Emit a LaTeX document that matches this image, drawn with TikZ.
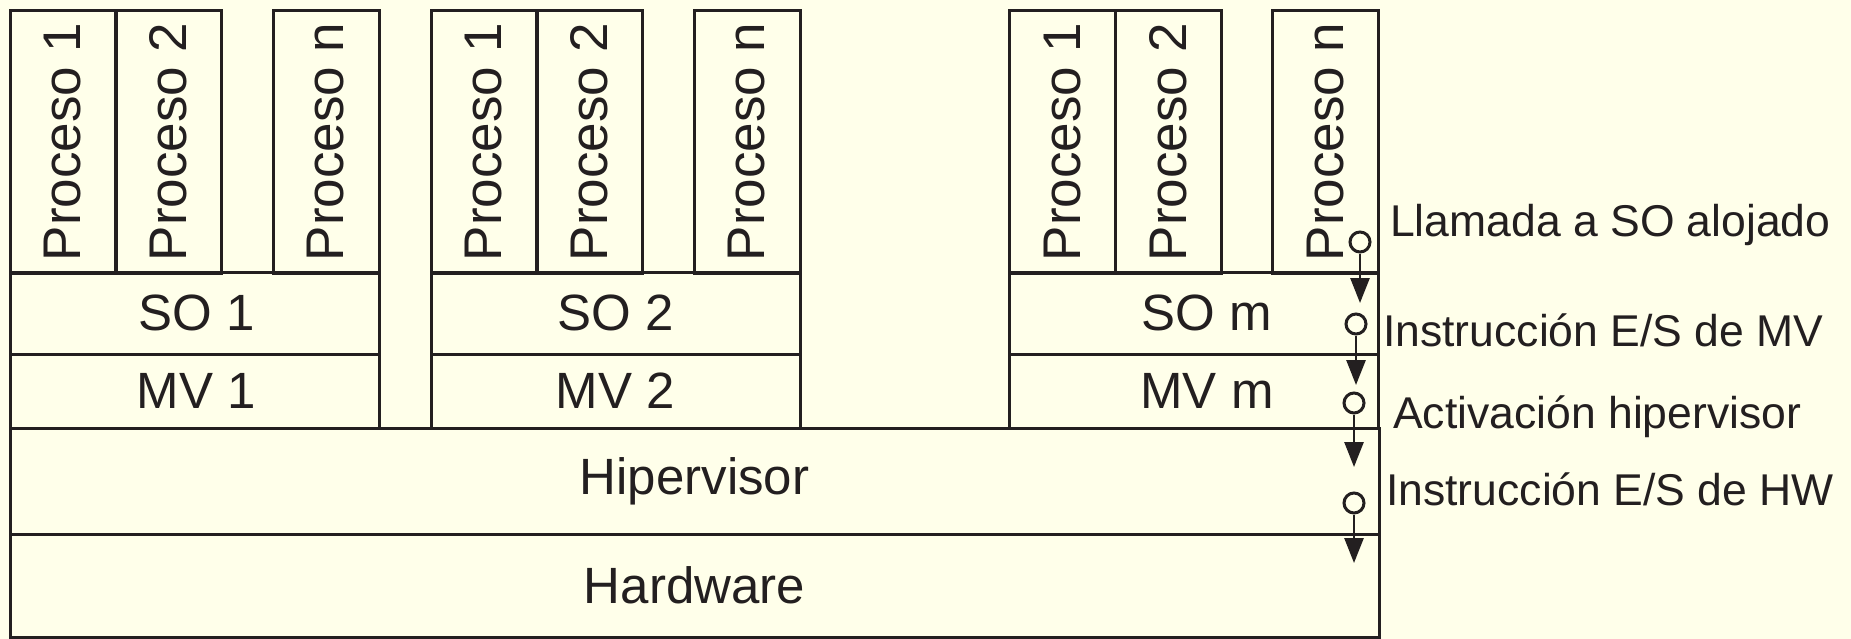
\documentclass[tikz,border=0pt]{standalone}
\usepackage{fontspec}
\setmainfont{Liberation Sans}
\usetikzlibrary{arrows.meta}
\usetikzlibrary{calc}

\begin{document}
\begin{tikzpicture}[x=1pt,y=-1pt]
  \definecolor{paper}{RGB}{255,255,234}
  \definecolor{ink}{RGB}{35,31,32}
  \tikzstyle{proc box}=[draw=ink,line width=3pt,rotate=90,minimum width=263pt,minimum height=106pt,inner sep=0pt,text=ink,font=\fontsize{53}{62}\selectfont]
  \tikzstyle{band box}=[draw=ink,line width=3pt,inner sep=0pt,minimum width=369pt,text=ink,font=\fontsize{51}{60}\selectfont]
  \tikzstyle{hook}=[circle,draw=ink,fill=paper,line width=3pt,minimum size=20pt,inner sep=0pt]
  \tikzstyle{call arrow}=[-{Triangle[length=25pt,width=19pt]},ink,line width=2.8pt]
  \tikzstyle{call label}=[anchor=base west,inner sep=0pt,text=ink,font=\fontsize{44.5}{53}\selectfont]

  % Background
  \useasboundingbox (0,0) rectangle (1851,639);
  \fill[paper] (0,0) rectangle (1851,639);

  % Virtual machines (last field: label push to the right)
  \foreach \gx/\gi/\gl/\dx [evaluate={\xa=\gx+53; \xb=\gx+158.5; \xn=\gx+316; \xm=\gx+184.5;}] in {10/1/1/4,431/2/2/0,1009.5/3/m/26}{
      \node[proc box] (p\gi-1) at (\xa,142) {Proceso 1};
      \node[proc box] (p\gi-2) at (\xb,142) {Proceso 2};
      \node[proc box] (p\gi-n) at (\xn,142) {Proceso n};
      \node[band box,minimum height=82pt] (so\gi) at (\xm,313) {\hspace*{\dx pt}SO \gl};
      \node[band box,minimum height=74pt] (mv\gi) at (\xm,391) {\hspace*{\dx pt}MV \gl};
    }

  % Common layers
  \node[band box,minimum width=1369pt,minimum height=106pt] (hyp) at (694.5,481) {Hipervisor};
  \node[band box,minimum width=1369pt,minimum height=103pt] (hw) at (694.5,585.5) {Hardware};

  % Call chain
  \node[hook] (h1) at (1360,242) {};
  \node[hook] (h2) at (1356,324) {};
  \node[hook] (h3) at (1354,403) {};
  \node[hook] (h4) at (1354,503) {};
  \coordinate (t1) at (1360,303);
  \coordinate (t2) at (1356,385);
  \coordinate (t3) at (1354,467);
  \coordinate (t4) at (1354,563);
  \foreach \i in {1,...,4}{
      \draw[call arrow] (h\i) -- (t\i);
    }

  \node[call label] (l1) at (1390,236) {Llamada a SO alojado};
  \node[call label] (l2) at (1383,346) {Instrucción E/S de MV};
  \node[call label] (l3) at (1393,428) {Activación hipervisor};
  \node[call label] (l4) at (1386,505) {Instrucción E/S de HW};

\end{tikzpicture}
\end{document}
